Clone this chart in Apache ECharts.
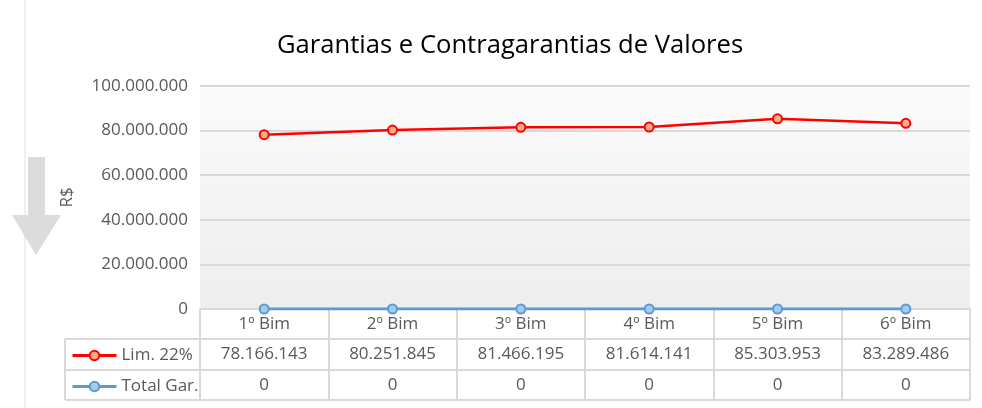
<!DOCTYPE html>
<html>
<head>
<meta charset="utf-8">
<script src="https://cdn.jsdelivr.net/npm/echarts@6/dist/echarts.min.js"></script>
<style>
  html, body { margin: 0; padding: 0; background: #fff; }
  #chart { width: 982px; height: 408px; }
</style>
</head>
<body>
<div id="chart"></div>
<script>
// dados do gráfico
var categorias = ['1º Bim', '2º Bim', '3º Bim', '4º Bim', '5º Bim', '6º Bim'];
var limite22 = [78166143, 80251845, 81466195, 81614141, 85303953, 83289486];
var totalGar = [0, 0, 0, 0, 0, 0];
var nomesSeries = ['Lim. 22%', 'Total Gar.'];

var FONTE = '"Open Sans", sans-serif';
var CINZA_TXT = '#595959';
var CINZA_LINHA = '#d9d9d9';

// formata número com ponto de milhar (pt-BR)
function fmt(v) {
  return String(Math.round(v)).replace(/\B(?=(\d{3})+(?!\d))/g, '.');
}

var chart = echarts.init(document.getElementById('chart'));

// eixo extra usado como linha da tabela de dados
function linhaTabela(offset, valores) {
  return {
    type: 'category',
    data: categorias,
    position: 'bottom',
    offset: offset,
    axisLine: { show: false },
    axisTick: { show: false },
    axisLabel: {
      margin: 15,
      verticalAlign: 'middle',
      color: CINZA_TXT,
      fontFamily: FONTE,
      fontSize: 17,
      formatter: function (v, i) { return fmt(valores[i]); }
    }
  };
}

var option = {
  animation: false,
  backgroundColor: '#fff',
  title: {
    text: 'Garantias e Contragarantias de Valores',
    left: 272,
    top: 28,
    textStyle: { color: '#000', fontFamily: FONTE, fontSize: 25.6, fontWeight: 'normal' }
  },
  legend: {
    orient: 'vertical',
    left: 66,
    top: 342,
    height: 66,
    itemWidth: 44,
    itemHeight: 12,
    itemGap: 14,
    data: nomesSeries,
    lineStyle: { width: 3 },
    textStyle: { color: CINZA_TXT, fontFamily: FONTE, fontSize: 17 }
  },
  grid: {
    left: 200,
    right: 12,
    top: 86,
    bottom: 99,
    show: true,
    borderWidth: 0,
    backgroundColor: new echarts.graphic.LinearGradient(0, 0, 0, 1, [
      { offset: 0, color: '#fbfbfb' },
      { offset: 1, color: '#eeeeee' }
    ])
  },
  xAxis: [
    {
      type: 'category',
      data: categorias,
      boundaryGap: true,
      axisLine: { show: true, lineStyle: { color: CINZA_LINHA, width: 2 } },
      axisTick: { show: true, length: 91, lineStyle: { color: CINZA_LINHA, width: 2 } },
      axisLabel: {
        margin: 15,
        verticalAlign: 'middle',
        color: CINZA_TXT,
        fontFamily: FONTE,
        fontSize: 17
      }
    },
    linhaTabela(30, limite22),
    linhaTabela(61, totalGar)
  ],
  yAxis: {
    type: 'value',
    min: 0,
    max: 100000000,
    interval: 20000000,
    name: 'R$',
    nameLocation: 'middle',
    nameGap: 124,
    nameTextStyle: { color: CINZA_TXT, fontFamily: FONTE, fontSize: 17 },
    axisLine: { show: false },
    axisTick: { show: false },
    axisLabel: {
      margin: 12,
      color: CINZA_TXT,
      fontFamily: FONTE,
      fontSize: 17,
      formatter: function (v) { return fmt(v); }
    },
    splitLine: { lineStyle: { color: CINZA_LINHA, width: 2 } }
  },
  series: [
    {
      name: nomesSeries[0],
      type: 'line',
      data: limite22,
      symbol: 'circle',
      symbolSize: 9,
      lineStyle: { color: '#ff0000', width: 2.5 },
      itemStyle: { color: '#f5ad88', borderColor: '#ff0000', borderWidth: 2 }
    },
    {
      name: nomesSeries[1],
      type: 'line',
      data: totalGar,
      symbol: 'circle',
      symbolSize: 9,
      lineStyle: { color: '#5b9bd5', width: 3 },
      itemStyle: { color: '#a9cbea', borderColor: '#5b9bd5', borderWidth: 2 }
    }
  ],
  graphic: [
    // borda esquerda do quadro
    { type: 'line', shape: { x1: 25, y1: 0, x2: 25, y2: 408 }, style: { stroke: '#f0f0f0', lineWidth: 2 } },
    // seta decorativa
    {
      type: 'polygon',
      shape: { points: [[28, 157], [45, 157], [45, 215], [61, 215], [36, 255], [12, 215], [28, 215]] },
      style: { fill: '#dcdcdc' }
    },
    // linhas da tabela (parte da legenda)
    { type: 'line', shape: { x1: 65, y1: 339, x2: 970, y2: 339 }, style: { stroke: CINZA_LINHA, lineWidth: 2 } },
    { type: 'line', shape: { x1: 65, y1: 370, x2: 970, y2: 370 }, style: { stroke: CINZA_LINHA, lineWidth: 2 } },
    { type: 'line', shape: { x1: 65, y1: 400, x2: 970, y2: 400 }, style: { stroke: CINZA_LINHA, lineWidth: 2 } },
    { type: 'line', shape: { x1: 65, y1: 339, x2: 65, y2: 400 }, style: { stroke: CINZA_LINHA, lineWidth: 2 } }
  ]
};

chart.setOption(option);
</script>
</body>
</html>
